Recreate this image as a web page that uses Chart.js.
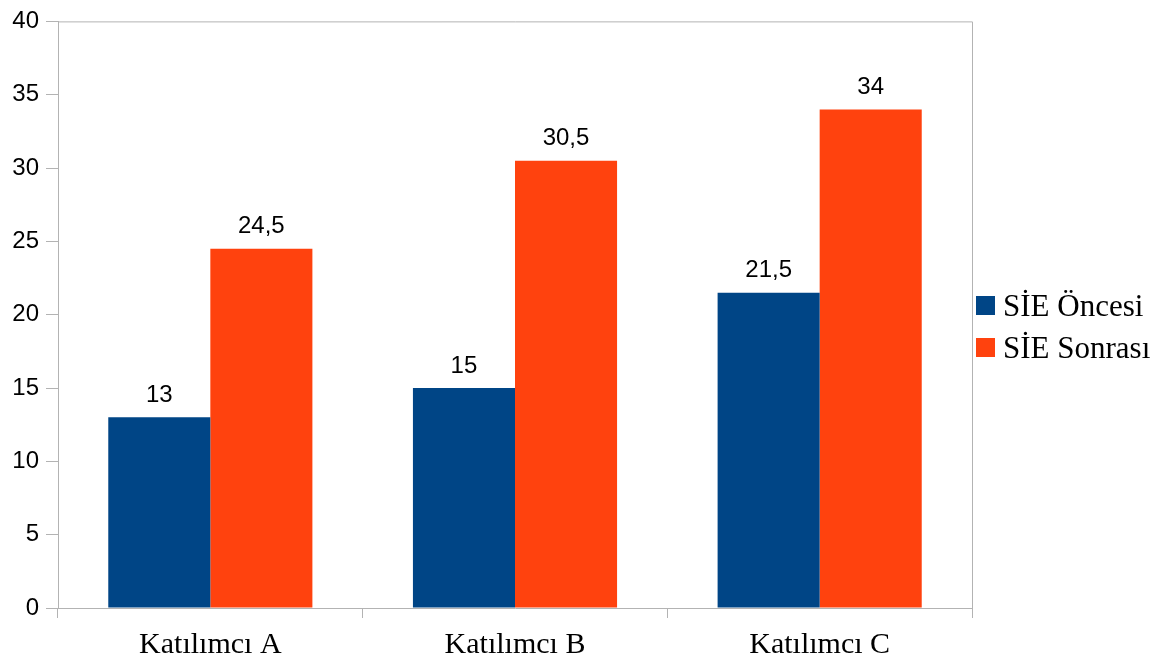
<!DOCTYPE html>
<html>
<head>
<meta charset="utf-8">
<script src="https://cdn.jsdelivr.net/npm/chart.js@4"></script>
<style>
  html, body { margin: 0; padding: 0; background: #fff; }
  #wrap { width: 1161px; height: 662px; }
</style>
</head>
<body>
<div id="wrap"><canvas id="grafikSIE"></canvas></div>
<script>
  const kategoriler = ['Katılımcı A', 'Katılımcı B', 'Katılımcı C'];
  const oncesi = [13, 15, 21.5];
  const sonrasi = [24.5, 30.5, 34];
  const seriAdlari = ['SİE Öncesi', 'SİE Sonrası'];
  const seriRenkleri = ['#004586', '#ff420e'];

  const cizgiRengi = '#b3b3b3';
  const serifYazi = '"Liberation Serif", "Times New Roman", serif';
  const sansYazi = '"Liberation Sans", Arial, sans-serif';
  const virgullu = v => String(v).replace('.', ',');

  // top and right edges of the plot wall
  const duvarCercevesi = {
    id: 'duvarCercevesi',
    afterDraw(chart) {
      const { ctx, chartArea: a } = chart;
      ctx.save();
      ctx.strokeStyle = cizgiRengi;
      ctx.lineWidth = 1;
      ctx.beginPath();
      ctx.moveTo(a.left, a.top + 0.5);
      ctx.lineTo(a.right + 0.5, a.top + 0.5);
      ctx.lineTo(a.right + 0.5, a.bottom);
      ctx.stroke();
      ctx.restore();
    }
  };

  // value labels above each bar
  const degerEtiketleri = {
    id: 'degerEtiketleri',
    afterDatasetsDraw(chart) {
      const { ctx } = chart;
      ctx.save();
      ctx.font = '24px ' + sansYazi;
      ctx.fillStyle = '#000';
      ctx.textAlign = 'center';
      ctx.textBaseline = 'middle';
      chart.data.datasets.forEach((ds, i) => {
        chart.getDatasetMeta(i).data.forEach((bar, j) => {
          ctx.fillText(virgullu(ds.data[j]), bar.x, bar.y - 22);
        });
      });
      ctx.restore();
    }
  };

  // legend in the right margin: small square + serif name, rows 42px apart
  const sagLejant = {
    id: 'sagLejant',
    afterDraw(chart) {
      const { ctx, chartArea: a } = chart;
      const x = a.right + 4;
      const ilkUst = chart.height / 2 - 35;
      ctx.save();
      ctx.font = '31px ' + serifYazi;
      ctx.textBaseline = 'alphabetic';
      ctx.textAlign = 'left';
      chart.data.datasets.forEach((ds, i) => {
        const ust = ilkUst + i * 42;
        ctx.fillStyle = ds.backgroundColor;
        ctx.fillRect(x, ust, 19, 19);
        ctx.fillStyle = '#000';
        ctx.fillText(ds.label, x + 27, ust + 20);
      });
      ctx.restore();
    }
  };

  new Chart(document.getElementById('grafikSIE'), {
    type: 'bar',
    data: {
      labels: kategoriler,
      datasets: [
        { label: seriAdlari[0], data: oncesi, backgroundColor: seriRenkleri[0] },
        { label: seriAdlari[1], data: sonrasi, backgroundColor: seriRenkleri[1] }
      ]
    },
    options: {
      responsive: true,
      maintainAspectRatio: false,
      animation: false,
      events: [],
      layout: { padding: { top: 20, left: 0, right: 189, bottom: 0 } },
      datasets: { bar: { barPercentage: 1, categoryPercentage: 0.67 } },
      plugins: {
        tooltip: { enabled: false },
        legend: { display: false }
      },
      scales: {
        x: {
          afterFit: ax => { ax.height = 54; },
          grid: { drawOnChartArea: false, color: cizgiRengi, tickLength: 10, offset: true },
          border: { color: cizgiRengi },
          ticks: {
            color: '#000',
            padding: 9,
            maxRotation: 0,
            font: { family: serifYazi, size: 30 }
          }
        },
        y: {
          min: 0,
          max: 40,
          afterFit: ax => { ax.width = 58; },
          grid: { drawOnChartArea: false, color: cizgiRengi, tickLength: 12 },
          border: { color: cizgiRengi },
          ticks: {
            stepSize: 5,
            color: '#000',
            padding: 7,
            font: { family: sansYazi, size: 24 }
          }
        }
      }
    },
    plugins: [duvarCercevesi, degerEtiketleri, sagLejant]
  });
</script>
</body>
</html>
